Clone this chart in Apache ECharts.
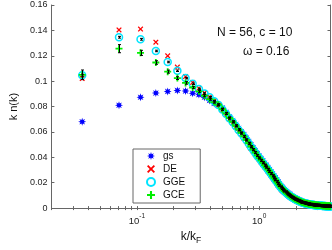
<!DOCTYPE html>
<html>
<head>
<meta charset="utf-8">
<script src="https://cdn.jsdelivr.net/npm/echarts@6/dist/echarts.min.js"></script>
<style>html,body{margin:0;padding:0;background:#fff;}#c{width:332px;height:250px;}</style>
</head>
<body>
<div id="c"></div>
<script>
// k / k_F grid (n/28, N = 56)
const kGrid = [0.0357,0.0714,0.1071,0.1429,0.1786,0.2143,0.25,0.2857,0.3214,0.3571,
0.3929,0.4286,0.4643,0.5,0.5357,0.5714,0.6071,0.6429,0.6786,0.7143,
0.75,0.7857,0.8214,0.8571,0.8929,0.9286,0.9643,1,1.0357,1.0714,
1.1071,1.1429,1.1786,1.2143,1.25,1.2857,1.3214,1.3571,1.3929,1.4286,
1.4643,1.5,1.5357,1.5714,1.6071,1.6429,1.6786,1.7143,1.75,1.7857,
1.8214,1.8571,1.8929,1.9286,1.9643,2,2.0357,2.0714,2.1071,2.1429,
2.1786,2.2143,2.25,2.2857,2.3214,2.3571,2.3929,2.4286,2.4643,2.5,
2.5357,2.5714,2.6071,2.6429,2.6786,2.7143,2.75,2.7857,2.8214,2.8571,
2.8929,2.9286,2.9643,3,3.0357,3.0714,3.1071,3.1429,3.1786,3.2143,
3.25,3.2857,3.3214,3.3571,3.3929,3.4286,3.4643,3.5,3.5357,3.5714,
3.6071,3.6429,3.6786,3.7143,3.75,3.7857,3.8214];

const gs = [0.0680,0.0810,0.0873,0.0906,0.0919,0.0927,0.0922,0.0904,0.0894,0.0873,
0.0848,0.0825,0.0815,0.0789,0.0755,0.0720,0.0690,0.0659,0.0628,0.0602,
0.0579,0.0552,0.0525,0.0498,0.0475,0.0452,0.0429,0.0410,0.0391,0.0372,
0.0353,0.0338,0.0320,0.0303,0.0286,0.0269,0.0253,0.0238,0.0223,0.0207,
0.0190,0.0177,0.0165,0.0155,0.0146,0.0138,0.0129,0.0121,0.0115,0.0108,
0.0098,0.0093,0.0088,0.0083,0.0078,0.0075,0.0071,0.0067,0.0064,0.0061,
0.0055,0.0052,0.0050,0.0048,0.0046,0.0044,0.0042,0.0040,0.0039,0.0037,
0.0036,0.0035,0.0033,0.0033,0.0032,0.0031,0.0030,0.0030,0.0029,0.0028,
0.0025,0.0025,0.0024,0.0024,0.0023,0.0023,0.0022,0.0022,0.0021,0.0021,
0.0021,0.0020,0.0020,0.0020,0.0019,0.0019,0.0019,0.0018,0.0018,0.0018,
0.0018,0.0017,0.0017,0.0017,0.0017,0.0016,0.0016];

const DE = [0.1021,0.1404,0.1410,0.1307,0.1200,0.1111,0.1036,0.0990,0.0945,0.0908,
0.0876,0.0845,0.0810,0.0769,0.0735,0.0700,0.0670,0.0639,0.0608,0.0582,
0.0551,0.0524,0.0497,0.0470,0.0447,0.0424,0.0401,0.0382,0.0363,0.0344,
0.0325,0.0310,0.0292,0.0275,0.0258,0.0241,0.0225,0.0210,0.0195,0.0179,
0.0166,0.0153,0.0141,0.0131,0.0122,0.0118,0.0109,0.0101,0.0095,0.0088,
0.0082,0.0077,0.0072,0.0067,0.0062,0.0059,0.0055,0.0051,0.0048,0.0045,
0.0045,0.0042,0.0040,0.0038,0.0036,0.0034,0.0032,0.0030,0.0029,0.0027,
0.0026,0.0025,0.0023,0.0023,0.0022,0.0021,0.0020,0.0020,0.0019,0.0018,
0.0019,0.0019,0.0018,0.0018,0.0017,0.0017,0.0016,0.0016,0.0015,0.0015,
0.0015,0.0014,0.0014,0.0014,0.0013,0.0013,0.0013,0.0012,0.0012,0.0012,
0.0012,0.0011,0.0011,0.0011,0.0011,0.0010,0.0010];

const GGE = [0.1047,0.1346,0.1330,0.1238,0.1151,0.1082,0.1024,0.0980,0.0938,0.0903,
0.0873,0.0842,0.0812,0.0777,0.0743,0.0708,0.0678,0.0647,0.0616,0.0590,
0.0563,0.0536,0.0509,0.0482,0.0459,0.0436,0.0413,0.0394,0.0375,0.0356,
0.0337,0.0322,0.0304,0.0287,0.0270,0.0253,0.0237,0.0222,0.0207,0.0191,
0.0178,0.0165,0.0153,0.0143,0.0134,0.0126,0.0117,0.0109,0.0103,0.0096,
0.0090,0.0085,0.0080,0.0075,0.0070,0.0067,0.0063,0.0059,0.0056,0.0053,
0.0050,0.0047,0.0045,0.0043,0.0041,0.0039,0.0037,0.0035,0.0034,0.0032,
0.0031,0.0030,0.0028,0.0028,0.0027,0.0026,0.0025,0.0025,0.0024,0.0023,
0.0022,0.0022,0.0021,0.0021,0.0020,0.0020,0.0019,0.0019,0.0018,0.0018,
0.0018,0.0017,0.0017,0.0017,0.0016,0.0016,0.0016,0.0015,0.0015,0.0015,
0.0015,0.0014,0.0014,0.0014,0.0014,0.0013,0.0013];

const GCE = [0.1050,0.1256,0.1223,0.1147,0.1075,0.1024,0.0986,0.0950,0.0920,0.0885,
0.0858,0.0835,0.0814,0.0779,0.0745,0.0710,0.0680,0.0649,0.0618,0.0592,
0.0565,0.0538,0.0511,0.0484,0.0461,0.0438,0.0415,0.0396,0.0377,0.0358,
0.0339,0.0324,0.0306,0.0289,0.0272,0.0255,0.0239,0.0224,0.0209,0.0193,
0.0180,0.0167,0.0155,0.0145,0.0136,0.0128,0.0119,0.0111,0.0105,0.0098,
0.0092,0.0087,0.0082,0.0077,0.0072,0.0069,0.0065,0.0061,0.0058,0.0055,
0.0052,0.0049,0.0047,0.0045,0.0043,0.0041,0.0039,0.0037,0.0036,0.0034,
0.0033,0.0032,0.0030,0.0030,0.0029,0.0028,0.0027,0.0027,0.0026,0.0025,
0.0024,0.0024,0.0023,0.0023,0.0022,0.0022,0.0021,0.0021,0.0020,0.0020,
0.0020,0.0019,0.0019,0.0019,0.0018,0.0018,0.0018,0.0017,0.0017,0.0017,
0.0017,0.0016,0.0016,0.0016,0.0016,0.0015,0.0015];

// statistical error bars (half widths)
const errGGE = [0.0008,0.0007,0.0007,0.0006,0.0006,0.0006,0.0006,0.0006,0.0006,0.0006,
0.0006,0.0006,0.0006,0.0006,0.0006,0.0006,0.0006,0.0006,0.0006,0.0006,
0.0006,0.0006,0.0006,0.0006,0.0006,0.0006,0.0006,0.0006,0.0006,0.0006,
0.0006,0.0006,0.0006,0.0006,0.0006,0.0006,0.0006,0.0006,0.0006,0.0006,
0.0006,0.0006,0.0006,0.0006,0.0006,0.0006,0.0006,0.0006,0.0006,0.0006,
0.0006,0.0006,0.0006,0.0006,0.0006,0.0006,0.0006,0.0006,0.0006,0.0006,
0.0006,0.0006,0.0006,0.0006,0.0006,0.0006,0.0006,0.0006,0.0006,0.0006,
0.0006,0.0006,0.0006,0.0006,0.0006,0.0006,0.0006,0.0006,0.0006,0.0006,
0.0006,0.0006,0.0006,0.0006,0.0006,0.0006,0.0006,0.0006,0.0006,0.0006,
0.0006,0.0006,0.0006,0.0006,0.0006,0.0006,0.0006,0.0006,0.0006,0.0006,
0.0006,0.0006,0.0006,0.0006,0.0006,0.0006,0.0006];
const errGCE = [0.0038,0.0032,0.0020,0.0014,0.0012,0.0011,0.0010,0.0009,0.0008,0.0008,
0.0008,0.0008,0.0008,0.0008,0.0008,0.0008,0.0008,0.0008,0.0008,0.0008,
0.0008,0.0008,0.0008,0.0008,0.0008,0.0008,0.0008,0.0008,0.0008,0.0008,
0.0008,0.0008,0.0008,0.0008,0.0008,0.0008,0.0008,0.0008,0.0008,0.0008,
0.0008,0.0008,0.0008,0.0008,0.0008,0.0008,0.0008,0.0008,0.0008,0.0008,
0.0008,0.0008,0.0008,0.0008,0.0008,0.0008,0.0008,0.0008,0.0008,0.0008,
0.0008,0.0008,0.0008,0.0008,0.0008,0.0008,0.0008,0.0008,0.0008,0.0008,
0.0008,0.0008,0.0008,0.0008,0.0008,0.0008,0.0008,0.0008,0.0008,0.0008,
0.0008,0.0008,0.0008,0.0008,0.0008,0.0008,0.0008,0.0008,0.0008,0.0008,
0.0008,0.0008,0.0008,0.0008,0.0008,0.0008,0.0008,0.0008,0.0008,0.0008,
0.0008,0.0008,0.0008,0.0008,0.0008,0.0008,0.0008];

const xTickValues = [0.02,0.03,0.04,0.05,0.06,0.07,0.08,0.09,0.1,0.2,0.3,0.4,0.5,0.6,0.7,0.8,0.9,1,2,3];
const xLabelValues = [0.1, 1];
const seriesNames = ['gs','DE','GGE','GCE'];
const annotation1 = 'N = 56, c = 10';
const annotation2 = 'ω = 0.16';

// ---- symbols ----
function starPath(){
  let p = 'path://';
  for (let i = 0; i < 16; i++) {
    const a = Math.PI * i / 8;
    const r = (i % 2 === 0) ? 5 : 2.4;
    const x = (5 + r * Math.sin(a)).toFixed(3), y = (5 - r * Math.cos(a)).toFixed(3);
    p += (i === 0 ? 'M' : 'L') + x + ',' + y;
  }
  return p + 'Z';
}
const ASTER = starPath();
const PLUS = 'path://M3.7,0H6.3V3.7H10V6.3H6.3V10H3.7V6.3H0V3.7H3.7Z';
const CROSS = 'path://M0,1.6L1.6,0L5,3.4L8.4,0L10,1.6L6.6,5L10,8.4L8.4,10L5,6.6L1.6,10L0,8.4L3.4,5Z';
const FONT = '"Liberation Sans", Arial, sans-serif';
const AXC = '#666';

function pairs(ys){ return kGrid.map((k,i)=>[k, ys[i]]); }
function errData(ys, es){ return kGrid.map((k,i)=>[k, ys[i], es[i]]); }

function errRender(params, api){
  const x = api.value(0), y = api.value(1), e = api.value(2);
  const t = api.coord([x, y + e]), b = api.coord([x, y - e]);
  const st = {stroke:'#000', lineWidth:1};
  const cx = Math.round(t[0]) + 0.5;
  return {type:'group', children:[
    {type:'line', shape:{x1:cx, y1:t[1], x2:cx, y2:b[1]}, style:st},
    {type:'line', shape:{x1:cx-1.5, y1:t[1], x2:cx+1.5, y2:t[1]}, style:st},
    {type:'line', shape:{x1:cx-1.5, y1:b[1], x2:cx+1.5, y2:b[1]}, style:st}
  ]};
}

const supRich = {
  b:{fontSize:9.5, fontFamily:FONT, color:'#222', verticalAlign:'bottom', lineHeight:13},
  s:{fontSize:6.5, fontFamily:FONT, color:'#222', verticalAlign:'top', lineHeight:13}
};

const chart = echarts.init(document.getElementById('c'), null, {renderer:'canvas'});
chart.setOption({
  animation:false,
  backgroundColor:'#fff',
  textStyle:{fontFamily:FONT},
  grid:{left:40, right:1.5, top:5, bottom:36},
  xAxis:[{
    type:'log', logBase:10, min:0.02, max:3.83,
    name:'{a|k/k}{f|F}', nameLocation:'middle', nameGap:19,
    nameTextStyle:{rich:{a:{fontSize:12, fontFamily:FONT, color:'#111'}, f:{fontSize:8.5, fontFamily:FONT, color:'#111', padding:[7,0,0,0]}}},
    axisLine:{show:true, lineStyle:{color:AXC, width:1}},
    axisTick:{show:true, inside:true, length:2, customValues:xTickValues, lineStyle:{color:AXC}},
    axisLabel:{show:true, customValues:xLabelValues, margin:5,
      formatter:function(v){ const e = Math.round(Math.log10(v)); return '{b|10}{s|' + e + '}'; },
      rich:supRich},
    splitLine:{show:false}, minorTick:{show:false}
  },{
    type:'log', logBase:10, min:0.02, max:3.83, position:'top',
    axisLine:{show:true, lineStyle:{color:AXC, width:1}},
    axisTick:{show:true, inside:true, length:2, customValues:xTickValues, lineStyle:{color:AXC}},
    axisLabel:{show:false}, splitLine:{show:false}
  }],
  yAxis:[{
    type:'value', min:0, max:0.16, interval:0.02,
    name:'k n(k)', nameLocation:'middle', nameGap:29, nameRotate:90,
    nameTextStyle:{fontSize:11, fontFamily:FONT, color:'#111'},
    axisLine:{show:true, lineStyle:{color:AXC, width:1}},
    axisTick:{show:true, inside:true, length:3, lineStyle:{color:AXC}},
    axisLabel:{fontSize:9, fontFamily:FONT, color:'#222', margin:4,
      formatter:function(v){ return v === 0 ? '0' : String(+v.toFixed(2)); }},
    splitLine:{show:false}
  },{
    type:'value', min:0, max:0.16, interval:0.02, position:'right',
    axisLine:{show:true, lineStyle:{color:AXC, width:1}},
    axisTick:{show:true, inside:true, length:3, lineStyle:{color:AXC}},
    axisLabel:{show:false}, splitLine:{show:false}
  }],
  legend:{
    data:seriesNames, orient:'vertical', left:133, top:149,
    padding:[1,15,2,13], itemGap:1, itemWidth:8, itemHeight:8,
    borderColor:'#666', borderWidth:1, backgroundColor:'#fff',
    textStyle:{fontSize:10, fontFamily:FONT, color:'#111', lineHeight:12, padding:[0,0,0,3]}
  },
  graphic:[
    {type:'text', left:217, top:27, style:{text:annotation1, font:'12px ' + FONT, fill:'#111'}},
    {type:'text', left:243, top:46, style:{text:annotation2, font:'12px ' + FONT, fill:'#111'}}
  ],
  series:[
    {name:seriesNames[0], type:'scatter', data:pairs(gs), symbol:ASTER, symbolSize:8,
     itemStyle:{color:'#0000ff', opacity:1}, z:2},
    {name:seriesNames[1], type:'scatter', data:pairs(DE), symbol:CROSS, symbolSize:5.5,
     itemStyle:{color:'#ff0000', opacity:1}, z:3},
    {name:seriesNames[2], type:'scatter', data:pairs(GGE), symbol:'circle', symbolSize:7,
     itemStyle:{color:'rgba(0,0,0,0)', borderColor:'#00e5ff', borderWidth:1.5, opacity:1}, z:4},
    {name:seriesNames[3], type:'scatter', data:pairs(GCE), symbol:PLUS, symbolSize:7,
     itemStyle:{color:'#00ee00', opacity:1}, z:5},
    {type:'custom', data:errData(GGE, errGGE), renderItem:errRender, encode:{x:0, y:1}, z:6, silent:true},
    {type:'custom', data:errData(GCE, errGCE), renderItem:errRender, encode:{x:0, y:1}, z:6, silent:true}
  ]
});
</script>
</body>
</html>
